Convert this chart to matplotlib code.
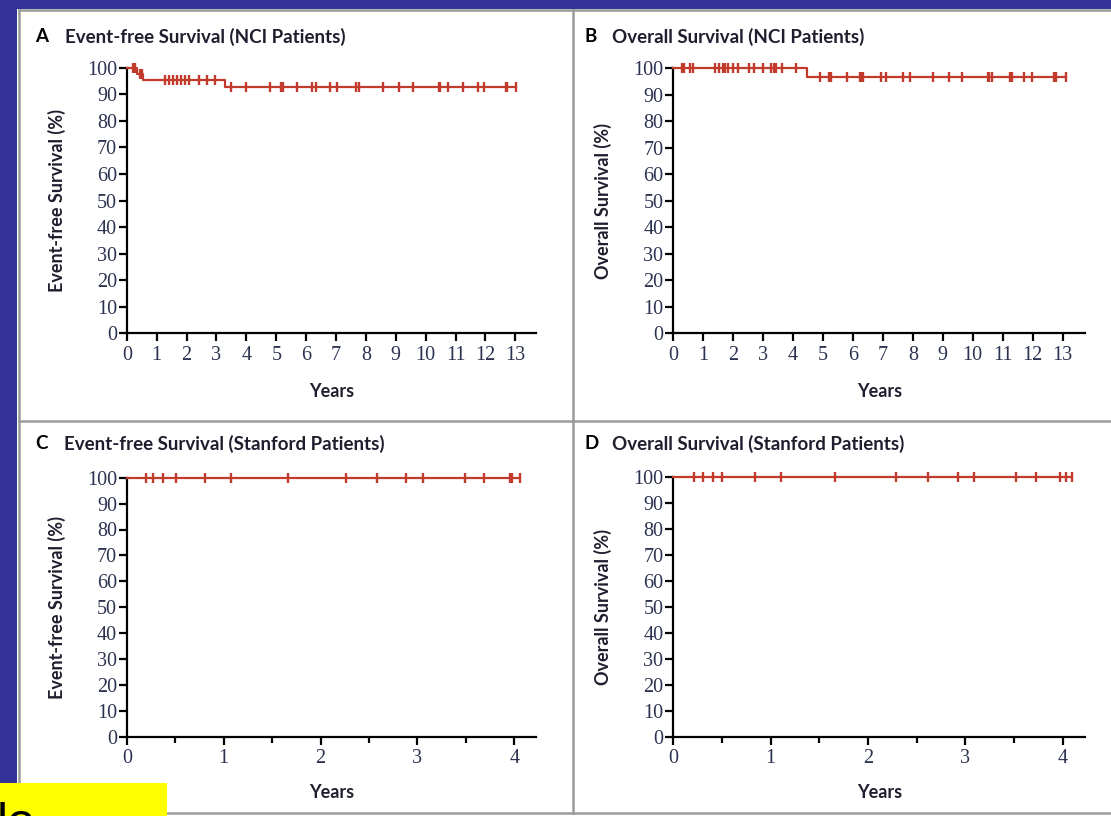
import numpy as np
import matplotlib
matplotlib.use("Agg")
import matplotlib.pyplot as plt
from matplotlib.lines import Line2D
from matplotlib.patches import Rectangle

W, H = 1111, 816
RED = '#c23a2b'
BLUE = '#33339a'
GRAY = '#9a9a9a'
TXT = '#1e1e2e'
TICKC = '#2c3350'

# Kaplan-Meier steps: start times of each level, levels (%), last follow-up
a_times = [0.0, 0.35, 0.55, 3.27]
a_levels = [100, 97.8, 95.5, 92.8]
a_end = 13.02
a_censor = [0.20, 0.27, 0.45, 0.50,
            1.27, 1.41, 1.54, 1.68, 1.81, 1.95, 2.08, 2.42, 2.69, 2.94,
            3.49, 3.98, 4.79, 5.15, 5.19, 5.23, 5.68, 6.19, 6.33, 6.80, 7.04,
            7.67, 7.78, 8.56, 9.11, 9.59, 10.44, 10.48, 10.74, 11.24, 11.74,
            11.96, 12.69, 12.73, 13.02]

b_times = [0.0, 4.47]
b_levels = [100, 96.6]
b_end = 13.12
b_censor = [0.30, 0.38, 0.58, 0.66, 1.41, 1.53, 1.66, 1.74, 1.82, 2.00, 2.16,
            2.55, 2.70, 3.00, 3.28, 3.36, 3.44, 3.62, 4.10,
            4.90, 5.20, 5.24, 5.28, 5.80, 6.25, 6.29, 6.33, 6.93, 7.10, 7.66,
            7.91, 8.66, 9.22, 9.63, 10.50, 10.55, 10.63, 11.26, 11.30, 11.73,
            11.98, 12.72, 12.78, 13.12]

c_times = [0.0]
c_levels = [100]
c_end = 4.06
c_censor = [0.20, 0.27, 0.37, 0.51, 0.81, 1.08, 1.66, 2.26, 2.58, 2.88, 3.06,
            3.49, 3.69, 3.95, 3.98, 4.06]

d_times = [0.0]
d_levels = [100]
d_end = 4.09
d_censor = [0.21, 0.31, 0.41, 0.50, 0.84, 1.11, 1.66, 2.29, 2.62, 2.92, 3.09,
            3.52, 3.72, 3.97, 4.03, 4.09]

yticks = list(range(0, 101, 10))
xticks_nci = list(range(0, 14))
xticks_stanford = list(range(0, 5))
minor_stanford = [0.5, 1.5, 2.5, 3.5]

letters = ['A', 'B', 'C', 'D']
titles = ['Event-free Survival (NCI Patients)', 'Overall Survival (NCI Patients)',
          'Event-free Survival (Stanford Patients)', 'Overall Survival (Stanford Patients)']
ylabels = ['Event-free Survival (%)', 'Overall Survival (%)',
           'Event-free Survival (%)', 'Overall Survival (%)']


def fx(px):
    return px / W


def fy(py):
    return 1 - py / H


fig = plt.figure(figsize=(W / 100, H / 100), dpi=100)
fig.patch.set_facecolor('white')

# blue slide background bands
fig.add_artist(Rectangle((0, fy(8.5)), 1, 8.5 / H, transform=fig.transFigure,
                         color=BLUE, lw=0, zorder=0))
fig.add_artist(Rectangle((0, 0), fx(16.5), 1, transform=fig.transFigure,
                         color=BLUE, lw=0, zorder=0))

# gray panel frame
for xs, ys in [([18.5, W], [10, 10]), ([18.5, 18.5], [10, 813]),
               ([18.5, W], [421, 421]), ([18.5, W], [813, 813]),
               ([572.5, 572.5], [10, 813])]:
    fig.add_artist(Line2D([fx(x) for x in xs], [fy(y) for y in ys],
                          transform=fig.transFigure, color=GRAY, lw=1.8))

# axes boxes in pixels: left, right, y at 100, y at 0, xmax
boxes = [(126.8, 535.7, 67.7, 333.3, 13.68),
         (673.1, 1085.3, 68.3, 333.3, 13.76),
         (126.8, 535.7, 477.7, 736.7, 4.22),
         (673.1, 1085.3, 476.7, 736.7, 4.23)]
title_pos = [(35, 65, 37), (584, 612, 37), (35, 64, 444), (584, 612, 444)]
years_gap = [49.5, 49.5, 47.5, 47.5]
curves = [(a_times, a_levels, a_end, a_censor),
          (b_times, b_levels, b_end, b_censor),
          (c_times, c_levels, c_end, c_censor),
          (d_times, d_levels, d_end, d_censor)]

for i, (l, r, top, bot, xmax) in enumerate(boxes):
    ax = fig.add_axes([fx(l), fy(bot), (r - l) / W, (bot - top) / H])
    ax.set_xlim(0, xmax)
    ax.set_ylim(0, 100)
    for s in ['top', 'right']:
        ax.spines[s].set_visible(False)
    for s in ['left', 'bottom']:
        ax.spines[s].set_linewidth(1.6)
    ax.patch.set_alpha(0)

    times, levels, end, censor = curves[i]
    st = np.append(times, end)
    sl = np.append(levels, levels[-1])
    ax.step(st, sl, where='post', color=RED, lw=1.6, clip_on=False, zorder=3)
    idx = np.searchsorted(np.array(times), np.array(censor), side='right') - 1
    cy = np.array(levels)[idx]
    ax.plot(censor, cy, ls='none', marker='|', ms=6.5, mew=1.7, color=RED,
            clip_on=False, zorder=4)

    ax.set_yticks(yticks)
    if i < 2:
        ax.set_xticks(xticks_nci)
    else:
        ax.set_xticks(xticks_stanford)
        ax.set_xticks(minor_stanford, minor=True)
        ax.tick_params(axis='x', which='minor', direction='out', length=4,
                       width=1.6, color='black')
    ax.tick_params(axis='both', which='major', direction='out', length=6,
                   width=1.6, color='black', labelcolor=TICKC, labelsize=14.5)
    ax.tick_params(axis='y', pad=1)
    ax.tick_params(axis='x', pad=3)
    for lab in ax.get_xticklabels() + ax.get_yticklabels():
        lab.set_family('Liberation Serif')

    ax.set_ylabel(ylabels[i], fontsize=13, fontweight='bold', family='Lato',
                  color=TXT)
    ax.yaxis.set_label_coords(-61 / (r - l), 0.5)
    ax.set_xlabel('Years', fontsize=13, fontweight='bold', family='Lato',
                  color=TXT)
    ax.xaxis.set_label_coords(0.5, -years_gap[i] / (bot - top))

    lx, tx, ty = title_pos[i]
    fig.text(fx(lx), fy(ty), letters[i], fontsize=13.5, fontweight='bold',
             family='Lato', color='black', va='center', ha='left')
    fig.text(fx(tx), fy(ty), titles[i], fontsize=13.5, fontweight='bold',
             family='Lato', color=TXT, va='center', ha='left')

# yellow note box at the bottom left
fig.add_artist(Rectangle((0, 0), fx(167), (816 - 783) / H,
                         transform=fig.transFigure, color='#ffff00', lw=0,
                         zorder=5))
fig.text(fx(-3.5), fy(838), 'lo', fontsize=36, family='Liberation Sans',
         color='black', ha='left', va='baseline', zorder=6)

fig.savefig('out.png', dpi=100)
